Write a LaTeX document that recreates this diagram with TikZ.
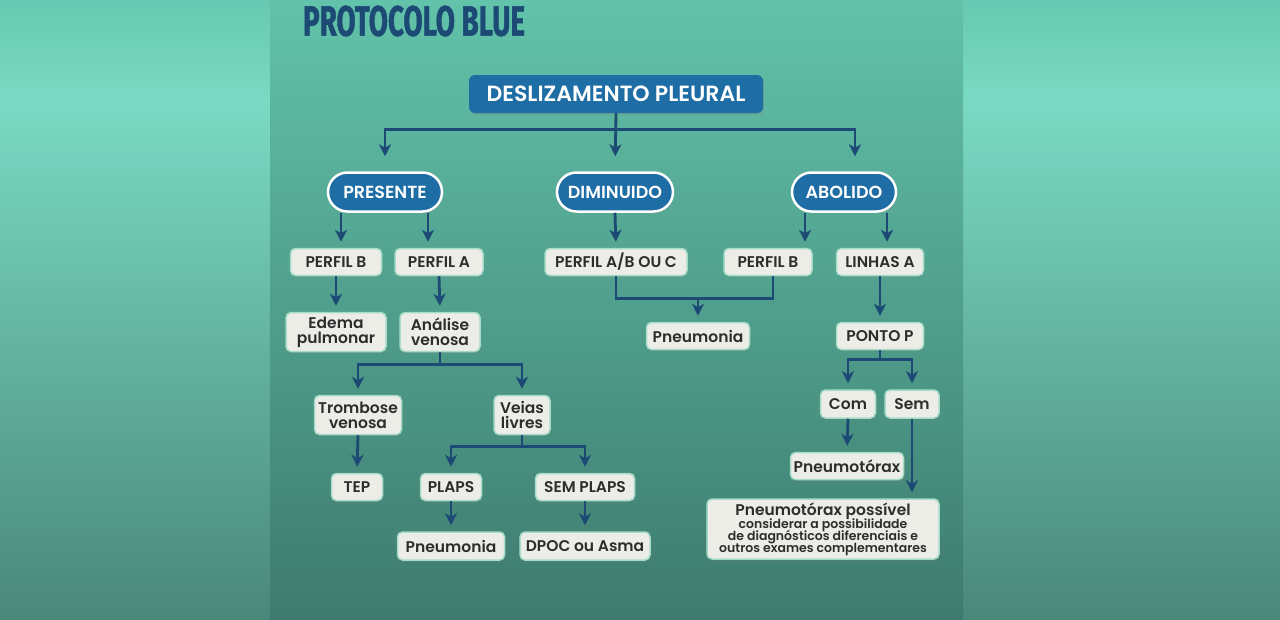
\documentclass[tikz,border=0pt]{standalone}
\usepackage{fontspec}
\usepackage{graphicx}
\setmainfont{Poppins}[BoldFont={* SemiBold}]
\newfontfamily\titlefont{Fira Sans}[BoldFeatures={FakeBold=1.5}]
\usetikzlibrary{arrows.meta,shapes.misc,shadows}

\definecolor{navy}{HTML}{1C4A74}
\definecolor{pillblue}{HTML}{1E6DA5}
\definecolor{boxfill}{HTML}{EDEDE8}
\definecolor{boxline}{HTML}{A6DCC8}
\definecolor{ink}{HTML}{2D2D2D}
\definecolor{bgtop}{HTML}{67C9B1}
\definecolor{bgband}{HTML}{7ADAC3}
\definecolor{bgbot}{HTML}{4A887A}
\definecolor{paneltop}{HTML}{62C2AA}
\definecolor{panelbot}{HTML}{3E7B6E}

\begin{document}
\begin{tikzpicture}[x=1pt,y=-1pt,
  topbox/.style={fill=pillblue, rounded corners=6pt, text=white, inner sep=0pt,
    font=\fontsize{22}{24}\selectfont\bfseries,
    drop shadow={shadow xshift=1pt, shadow yshift=-2pt, opacity=.25}},
  pill/.style={rounded rectangle, fill=pillblue, draw=white, line width=2.5pt,
    text=white, inner sep=0pt, minimum height=39pt,
    font=\fontsize{17.5}{19}\selectfont\bfseries,
    drop shadow={shadow xshift=1pt, shadow yshift=-2pt, opacity=.25}},
  box/.style={fill=boxfill, draw=boxline, line width=1.5pt, rounded corners=5pt,
    text=ink, inner sep=0pt, align=center, minimum height=27pt,
    font=\fontsize{15.5}{15}\selectfont\bfseries,
    drop shadow={shadow xshift=1pt, shadow yshift=-2pt, opacity=.2}},
  link/.style={draw=navy, line width=2.8pt},
  arr/.style={link, -{Stealth[length=12pt,width=12pt,inset=3.5pt]}, shorten >=6pt}]

\useasboundingbox (0,0) rectangle (1280,619);
% fundo
\shade[top color=bgtop, bottom color=bgband] (0,0) rectangle (1280,100);
\shade[top color=bgband, bottom color=bgbot] (0,100) rectangle (1280,619);
\shade[top color=paneltop, bottom color=panelbot] (270,0) rectangle (963,619);

\node[font=\titlefont\bfseries, text=navy, inner sep=0pt] (title) at (414,21)
  {\resizebox{222pt}{30pt}{PROTOCOLO BLUE}};

% nivel 1
\node[topbox, minimum width=294pt, minimum height=38pt] (desl) at (616,94) {DESLIZAMENTO PLEURAL};

% nivel 2
\node[pill, minimum width=114pt] (pres) at (385,192) {PRESENTE};
\node[pill, minimum width=116pt] (dimi) at (615,192) {DIMINUIDO};
\node[pill, minimum width=104pt] (abol) at (844,192) {ABOLIDO};

% presente
\node[box, minimum width=91pt] (pb1) at (336,262) {PERFIL B};
\node[box, minimum width=88pt] (pa1) at (439,262) {PERFIL A};
\node[box, minimum width=100pt, minimum height=39pt] (edema) at (336,332) {Edema\\pulmonar};
\node[box, minimum width=80pt, minimum height=39pt] (anal) at (440,332) {Análise\\venosa};
\node[box, minimum width=87pt, minimum height=39pt] (tromb) at (358,415) {Trombose\\venosa};
\node[box, minimum width=56pt, minimum height=39pt] (veias) at (522,415) {Veias\\livres};
\node[box, minimum width=51pt] (tep) at (357,487) {TEP};
\node[box, minimum width=61pt] (plaps) at (451,487) {PLAPS};
\node[box, minimum width=99pt] (semplaps) at (585,487) {SEM PLAPS};
\node[box, minimum width=107pt, minimum height=28pt] (pneu1) at (451,546) {Pneumonia};
\node[box, minimum width=130pt, minimum height=28pt] (dpoc) at (585,546) {DPOC ou Asma};

% diminuido
\node[box, minimum width=142pt] (pabc) at (616,262) {PERFIL A/B OU C};
\node[box, minimum width=103pt] (pneu2) at (698,336) {Pneumonia};

% abolido
\node[box, minimum width=88pt] (pb2) at (768,262) {PERFIL B};
\node[box, minimum width=87pt] (linhas) at (880,262) {LINHAS A};
\node[box, minimum width=87pt] (ponto) at (880,336) {PONTO P};
\node[box, minimum width=55pt, minimum height=28pt] (com) at (848,404) {Com};
\node[box, minimum width=54pt, minimum height=28pt] (sem) at (912,404) {Sem};
\node[box, minimum width=113pt] (ptx) at (847,466) {Pneumotórax};
\node[box, minimum width=232pt, minimum height=60pt] (final) at (823,529)
  {Pneumotórax possível\\[-2pt]
   {\fontsize{12.5}{11}\selectfont considerar a possibilidade}\\[-3pt]
   {\fontsize{12.5}{11}\selectfont de diagnósticos diferenciais e}\\[-3pt]
   {\fontsize{12.5}{11}\selectfont outros exames complementares}};

% conectores
\draw[arr, shorten >=15pt] (desl.south) -- ++(0,16) -| (pres.north);
\draw[arr, shorten >=15pt] (desl.south) -- ++(0,16) -| ([xshift=11pt]abol.north);
\draw[arr, shorten >=15pt] (desl.south) -- (dimi.north);

\draw[arr] ([xshift=-44pt]pres.south) -- ([xshift=-44pt]pres.south |- pb1.north);
\draw[arr] ([xshift=43pt]pres.south) -- ([xshift=43pt]pres.south |- pa1.north);
\draw[arr] (pb1.south) -- (edema.north);
\draw[arr] (pa1.south) -- (anal.north);
\draw[arr] (anal.south) -- ++(0,12) -| (tromb.north);
\draw[arr] (anal.south) -- ++(0,12) -| (veias.north);
\draw[arr] (tromb.south) -- (tep.north);
\draw[arr] (veias.south) -- ++(0,11) -| (plaps.north);
\draw[arr] (veias.south) -- ++(0,11) -| (semplaps.north);
\draw[arr] (plaps.south) -- (pneu1.north);
\draw[arr] (semplaps.south) -- (dpoc.north);

\draw[arr] (dimi.south) -- (pabc.north);
\path (pabc.south) ++(0,22) coordinate (abjoin);
\draw[link] (pabc.south) -- (abjoin) -| ([xshift=5pt]pb2.south);
\draw[arr] (abjoin -| pneu2.north) -- (pneu2.north);

\draw[arr] ([xshift=-39pt]abol.south) -- ([xshift=-39pt]abol.south |- pb2.north);
\draw[arr] ([xshift=43pt]abol.south) -- ([xshift=43pt]abol.south |- linhas.north);
\draw[arr] (linhas.south) -- (ponto.north);
\draw[arr] (ponto.south) -- ++(0,9) -| (com.north);
\draw[arr] (ponto.south) -- ++(0,9) -| (sem.north);
\draw[arr] (com.south) -- (ptx.north);
\draw[arr] (sem.south) -- (sem.south |- final.north);
\end{tikzpicture}
\end{document}
